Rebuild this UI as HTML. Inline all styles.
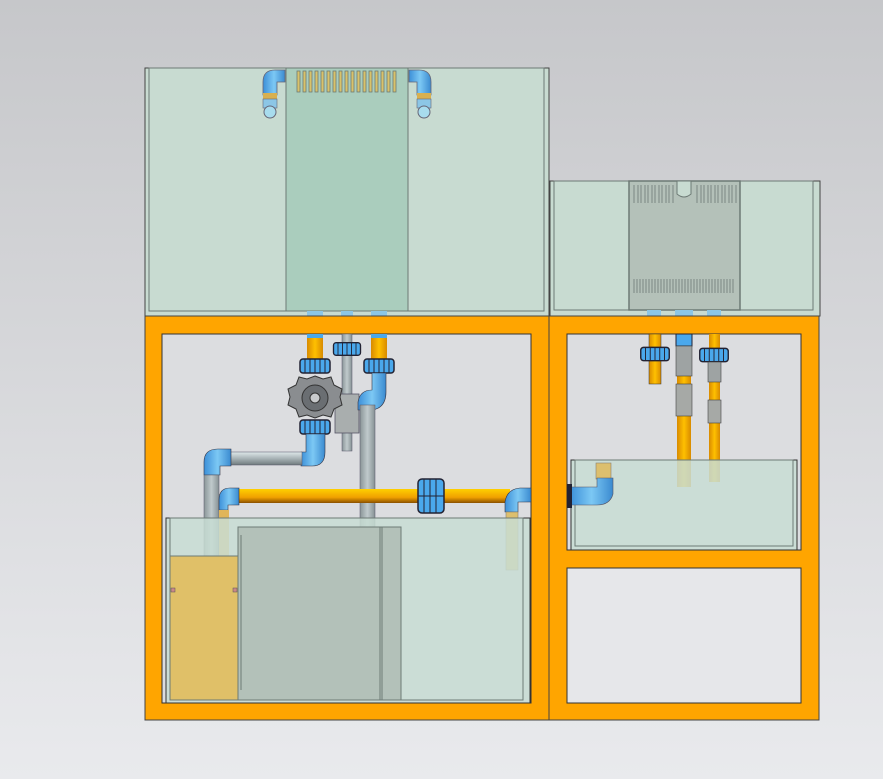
<!DOCTYPE html>
<html><head><style>
html,body{margin:0;padding:0;width:883px;height:779px;overflow:hidden;background:linear-gradient(#c6c7ca,#e9eaed);}
svg{display:block}
</style></head><body>
<svg width="883" height="779" viewBox="0 0 883 779" xmlns="http://www.w3.org/2000/svg">
<defs>
<linearGradient id="bl" x1="0" x2="1"><stop offset="0" stop-color="#3c8fd8"/><stop offset=".5" stop-color="#7cc8f4"/><stop offset="1" stop-color="#3a8ad0"/></linearGradient>
<linearGradient id="blh" x1="0" y1="0" x2="0" y2="1"><stop offset="0" stop-color="#7cc8f4"/><stop offset="1" stop-color="#3a8ad0"/></linearGradient>
<linearGradient id="gr" x1="0" x2="1"><stop offset="0" stop-color="#8a9598"/><stop offset=".5" stop-color="#c0cacc"/><stop offset="1" stop-color="#869194"/></linearGradient>
<linearGradient id="grh" x1="0" y1="0" x2="0" y2="1"><stop offset="0" stop-color="#dfe8ea"/><stop offset=".5" stop-color="#a8b3b6"/><stop offset="1" stop-color="#6f7a7d"/></linearGradient>
<linearGradient id="or" x1="0" x2="1"><stop offset="0" stop-color="#d88a00"/><stop offset=".5" stop-color="#ffc000"/><stop offset="1" stop-color="#d88a00"/></linearGradient>
<linearGradient id="orh" x1="0" y1="0" x2="0" y2="1"><stop offset="0" stop-color="#ffd000"/><stop offset=".6" stop-color="#f0a000"/><stop offset="1" stop-color="#8a5000"/></linearGradient>
<g id="union"><rect x="-15" y="-7" width="30" height="14" rx="3" fill="#4aa8ec" stroke="#223" stroke-width="1.5"/><path d="M-10 -7V7M-5 -7V7M0 -7V7M5 -7V7M10 -7V7" stroke="#223" stroke-width="1"/></g>
</defs>

<!-- top-left tank -->
<rect x="145" y="68" width="404" height="248" fill="#c8dbd1" stroke="#444" stroke-width="1"/>
<rect x="149" y="68" width="395" height="243" fill="none" stroke="#6d7a75" stroke-width="1"/>
<rect x="286" y="68" width="122" height="243" fill="#aacdbd" stroke="#6d7a75" stroke-width="1"/>
<g fill="#d9c26a" stroke="#6d7a75" stroke-width=".8">
<rect x="297" y="71" width="3" height="21"/><rect x="303" y="71" width="3" height="21"/><rect x="309" y="71" width="3" height="21"/><rect x="315" y="71" width="3" height="21"/><rect x="321" y="71" width="3" height="21"/><rect x="327" y="71" width="3" height="21"/><rect x="333" y="71" width="3" height="21"/><rect x="339" y="71" width="3" height="21"/><rect x="345" y="71" width="3" height="21"/><rect x="351" y="71" width="3" height="21"/><rect x="357" y="71" width="3" height="21"/><rect x="363" y="71" width="3" height="21"/><rect x="369" y="71" width="3" height="21"/><rect x="375" y="71" width="3" height="21"/><rect x="381" y="71" width="3" height="21"/><rect x="387" y="71" width="3" height="21"/><rect x="393" y="71" width="3" height="21"/>
</g>
<!-- top small pipes -->
<g>
<path d="M263 95 V82 Q263 70 275 70 H285 V82 H277 V95 Z" fill="url(#bl)" stroke="#667" stroke-width=".8"/>
<rect x="263" y="93" width="14" height="6" fill="#d8b050"/><rect x="263" y="99" width="14" height="9" fill="#8cc6e6" stroke="#667" stroke-width=".6"/>
<circle cx="270" cy="112" r="6" fill="#a8dcee" stroke="#667"/>
<path d="M431 95 V82 Q431 70 419 70 H409 V82 H417 V95 Z" fill="url(#bl)" stroke="#667" stroke-width=".8"/>
<rect x="417" y="93" width="14" height="6" fill="#d8b050"/><rect x="417" y="99" width="14" height="9" fill="#8cc6e6" stroke="#667" stroke-width=".6"/>
<circle cx="424" cy="112" r="6" fill="#a8dcee" stroke="#667"/>
</g>

<!-- top-right tank -->
<rect x="550" y="181" width="270" height="135" fill="#c8dbd1" stroke="#444" stroke-width="1"/>
<rect x="554" y="181" width="259" height="129" fill="none" stroke="#6d7a75" stroke-width="1"/>
<rect x="629" y="181" width="111" height="129" fill="#b4c1b9" stroke="#6d7a75" stroke-width="1.5"/>
<path d="M677 181 V194 Q684 200 691 194 V181 Z" fill="#c8dbd1" stroke="#6d7a75"/>
<g fill="none" stroke="#6d7a75" stroke-width=".8">
<path d="M634 185v18M638 185v18M641 185v18M645 185v18M648 185v18M652 185v18M655 185v18M659 185v18M662 185v18M666 185v18M669 185v18M673 185v18"/>
<path d="M697 185v18M701 185v18M704 185v18M708 185v18M711 185v18M715 185v18M718 185v18M722 185v18M725 185v18M729 185v18M732 185v18M736 185v18"/>
<path d="M634 279v14M637 279v14M640 279v14M643 279v14M646 279v14M649 279v14M652 279v14M655 279v14M658 279v14M661 279v14M664 279v14M667 279v14M670 279v14M673 279v14M676 279v14M679 279v14M682 279v14M685 279v14M688 279v14M691 279v14M694 279v14M697 279v14M700 279v14M703 279v14M706 279v14M709 279v14M712 279v14M715 279v14M718 279v14M721 279v14M724 279v14M727 279v14M730 279v14M733 279v14"/>
</g>
<rect x="647" y="310" width="14" height="6" fill="#8cc6e6"/><rect x="675" y="310" width="18" height="6" fill="#8cc6e6"/><rect x="707" y="310" width="14" height="6" fill="#8cc6e6"/>
<rect x="307" y="311" width="16" height="5" fill="#8cc6e6"/><rect x="341" y="311" width="12" height="5" fill="#8cc6e6"/><rect x="371" y="311" width="16" height="5" fill="#8cc6e6"/>

<!-- orange cabinets -->
<rect x="145" y="316" width="404" height="404" fill="#ffa500" stroke="#444"/>
<rect x="549" y="316" width="270" height="404" fill="#ffa500" stroke="#444"/>
<rect x="162" y="334" width="369" height="369" fill="#dcdde0" stroke="#333"/>
<rect x="567" y="334" width="234" height="216" fill="#dcdde0" stroke="#333"/>
<rect x="567" y="568" width="234" height="135" fill="#e6e7ea" stroke="#333"/>

<!-- left pipework -->
<rect x="307" y="334" width="16" height="25" fill="url(#or)"/>
<rect x="307" y="334" width="16" height="4" fill="#4aa8ec"/>
<rect x="342" y="334" width="10" height="117" fill="url(#gr)" stroke="#556" stroke-width=".5"/>
<rect x="335" y="394" width="24" height="39" fill="#a9aeae" stroke="#556" stroke-width=".8"/>
<use href="#union" x="347" y="349" transform="translate(347 349) scale(.9) translate(-347 -349)"/>
<rect x="371" y="334" width="16" height="25" fill="url(#or)"/>
<rect x="371" y="334" width="16" height="4" fill="#4aa8ec"/>
<use href="#union" x="315" y="366"/>
<use href="#union" x="379" y="366"/>
<rect x="373" y="373" width="13" height="22" fill="url(#bl)"/>
<path d="M386 373 V392 Q386 408 372 410 H358 V402 Q360 390 372 390 V373 Z" fill="url(#bl)" stroke="#334" stroke-width=".6"/>
<rect x="360" y="405" width="15" height="122" fill="url(#gr)" stroke="#556" stroke-width=".5"/>
<!-- valve -->
<rect x="306" y="420" width="18" height="32" fill="url(#bl)"/>
<path d="M315 376 l8 3 8 -2 3 8 8 4 -2 8 2 8 -8 4 -3 8 -8 -2 -8 3 -8 -3 -8 2 -3 -8 -8 -4 2 -8 -2 -8 8 -4 3 -8 8 2 z" fill="#8a8d90" stroke="#333" stroke-width="1"/>
<circle cx="315" cy="398" r="13" fill="#6a6e72" stroke="#333"/>
<circle cx="315" cy="398" r="5" fill="#c8cacc" stroke="#333"/>
<use href="#union" x="315" y="427"/>
<path d="M306 434 V452 H301 V466 H312 Q325 466 325 452 V434 Z" fill="url(#bl)" stroke="#334" stroke-width=".6"/>
<rect x="230" y="452" width="72" height="13" fill="url(#grh)" stroke="#556" stroke-width=".5"/>
<path d="M204 475 V462 Q204 449 218 449 H231 V466 H220 V475 Z" fill="url(#bl)" stroke="#334" stroke-width=".6"/>
<rect x="204" y="475" width="15" height="82" fill="url(#gr)" stroke="#556" stroke-width=".5"/>
<!-- orange horizontal -->
<rect x="238" y="489" width="272" height="14" fill="url(#orh)"/>
<path d="M219 510 V500 Q219 488 230 488 H239 V505 H228 V510 Z" fill="url(#bl)" stroke="#334" stroke-width=".6"/>
<rect x="219" y="510" width="10" height="47" fill="#e0b55a"/>
<rect x="418" y="479" width="26" height="34" rx="4" fill="#4aa8ec" stroke="#223" stroke-width="1.5"/>
<path d="M424 479v34M430 479v34M436 479v34M418 496h26" stroke="#223" stroke-width="1"/>
<path d="M505 512 V502 Q507 489 520 488 H531 V502 H518 V512 Z" fill="url(#bl)" stroke="#334" stroke-width=".6"/>
<rect x="506" y="512" width="12" height="58" fill="#dcbf6e" stroke="#8a8070" stroke-width=".6"/>

<!-- left sump -->
<rect x="166" y="518" width="364" height="185" fill="#c8ddd4" fill-opacity=".85" stroke="#333" stroke-width="1"/>
<rect x="170" y="518" width="353" height="182" fill="none" stroke="#6d7a75"/>
<rect x="170" y="556" width="68" height="144" fill="#e0c068" stroke="#6d7a75"/>
<rect x="171" y="588" width="4" height="4" fill="#c88" stroke="#555" stroke-width=".5"/><rect x="233" y="588" width="4" height="4" fill="#c88" stroke="#555" stroke-width=".5"/>
<rect x="238" y="527" width="163" height="173" fill="#b3c1b9" stroke="#6d7a75"/>
<path d="M380 527V700M382 527V700" stroke="#6d7a75"/>
<path d="M241 535V690" stroke="#6d7a75"/>

<!-- right pipework -->
<rect x="649" y="334" width="12" height="50" fill="url(#or)" stroke="#333" stroke-width=".5"/>
<use href="#union" x="655" y="354" transform="translate(655 354) scale(.95) translate(-655 -354)"/>
<rect x="677" y="334" width="14" height="153" fill="url(#or)"/>
<rect x="676" y="334" width="16" height="12" fill="#4aa8ec" stroke="#223"/>
<rect x="676" y="346" width="16" height="30" fill="#9ea3a3" stroke="#444" stroke-width=".6"/>
<rect x="676" y="384" width="16" height="32" fill="#a6a9a6" stroke="#444" stroke-width=".6"/>
<rect x="709" y="334" width="11" height="148" fill="url(#or)"/>
<use href="#union" x="714" y="355" transform="translate(714 355) scale(.95) translate(-714 -355)"/>
<rect x="708" y="362" width="13" height="20" fill="#9ea3a3" stroke="#444" stroke-width=".6"/>
<rect x="708" y="400" width="13" height="23" fill="#a6a9a6" stroke="#444" stroke-width=".6"/>

<!-- right sump -->
<rect x="571" y="460" width="226" height="90" fill="#c8ddd4" fill-opacity=".85" stroke="#333"/>
<rect x="575" y="460" width="218" height="86" fill="none" stroke="#6d7a75"/>
<rect x="596" y="463" width="15" height="16" fill="#dcbf6e" stroke="#8a8070" stroke-width=".6"/>
<path d="M570 487 H597 V478 H613 V494 Q610 505 597 505 H570 Z" fill="url(#bl)" stroke="#556" stroke-width=".6"/>
<rect x="567" y="484" width="5" height="24" fill="#223"/>
</svg>
</body></html>
